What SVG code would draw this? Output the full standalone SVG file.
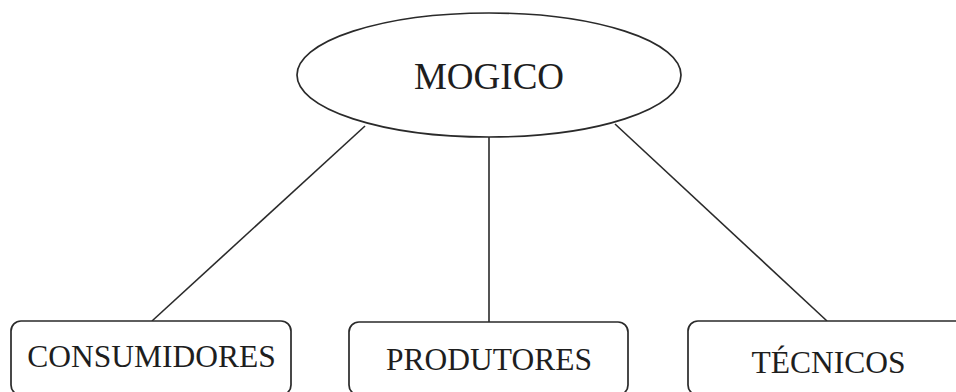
<svg xmlns="http://www.w3.org/2000/svg" width="956" height="392" viewBox="0 0 956 392">
<style>
.shape{fill:#fff;stroke:#2a2a2a;stroke-width:1.7}
.lbl{font-family:"Liberation Serif","Times New Roman",serif;fill:#1e1e1e;text-anchor:middle}
.conn line{stroke:#2a2a2a;stroke-width:1.6}
</style>
<rect width="956" height="392" fill="#fff"/>
<g class="conn" id="connectors">
<line x1="365" y1="126" x2="152" y2="321"/>
<line x1="489" y1="137" x2="489" y2="322"/>
<line x1="615" y1="124" x2="827" y2="321"/>
</g>
<g id="mogico">
<ellipse class="shape" cx="489" cy="75" rx="192" ry="62"/>
<text class="lbl" x="489" y="89" font-size="37">MOGICO</text>
</g>
<g id="consumidores">
<rect class="shape" x="11" y="321" width="280" height="74" rx="10"/>
<text class="lbl" x="151.5" y="367" font-size="31.5">CONSUMIDORES</text>
</g>
<g id="produtores">
<rect class="shape" x="349" y="322" width="279" height="73" rx="10"/>
<text class="lbl" x="489" y="370" font-size="31.5">PRODUTORES</text>
</g>
<g id="tecnicos">
<rect class="shape" x="688" y="321" width="300" height="74" rx="10"/>
<text class="lbl" x="828.5" y="373" font-size="31.5">TÉCNICOS</text>
</g>
</svg>
